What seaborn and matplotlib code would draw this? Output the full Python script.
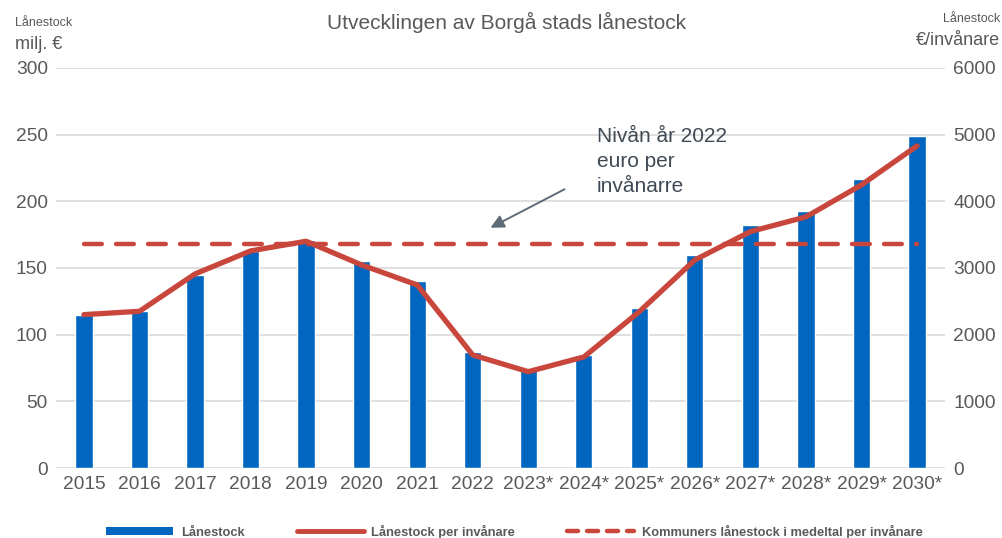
"""
Utvecklingen av Borgå stads lånestock - bars (milj. €) and per capita line (€/invånare)
"""
import numpy as np
import pandas as pd
import matplotlib
matplotlib.use('Agg')
import matplotlib.pyplot as plt
from matplotlib.lines import Line2D
from matplotlib.patches import Patch, FancyArrowPatch
import seaborn as sns

years = ['2015', '2016', '2017', '2018', '2019', '2020', '2021', '2022',
         '2023*', '2024*', '2025*', '2026*', '2027*', '2028*', '2029*', '2030*']
lanestock = [115, 118, 145, 163, 171, 155, 140, 87,
             74, 85, 120, 160, 182, 193, 217, 249]
per_invanare = [2300, 2350, 2910, 3255, 3400, 3045, 2745, 1695,
                1445, 1665, 2345, 3120, 3545, 3765, 4245, 4830]
medeltal = 3360

BLUE = '#0066BF'
RED = '#C8463B'
GRID = '#D9D9D9'
TEXT = '#595959'

sns.set_theme(style='white')
plt.rcParams['font.family'] = ['Liberation Sans', 'DejaVu Sans']

df = pd.DataFrame({'year': years, 'lanestock': lanestock, 'per_inv': per_invanare})
df['pos'] = np.arange(len(years))

fig = plt.figure(figsize=(10.03, 5.38), dpi=100)
ax = fig.add_axes([0.056, 0.130, 0.886, 0.744])

sns.barplot(data=df, x='year', y='lanestock', color=BLUE, width=0.31,
            saturation=1, ax=ax, zorder=2)
ax.set_ylim(0, 300)
ax.set_yticks(range(0, 301, 50))
ax.set_xlim(-0.5, len(years) - 0.5)
ax.grid(axis='y', color=GRID, linewidth=1.2, zorder=0)
ax.set_axisbelow(True)
ax.set_xlabel('')
ax.set_ylabel('')
ax.tick_params(axis='both', length=0, labelsize=13.8, colors=TEXT, pad=6)
for s in ax.spines.values():
    s.set_visible(False)

ax2 = ax.twinx()
sns.lineplot(data=df, x='pos', y='per_inv', color=RED, linewidth=3.8,
             ax=ax2, solid_capstyle='round', zorder=3)
ax2.plot([df['pos'].iloc[0], df['pos'].iloc[-1]], [medeltal, medeltal],
         color=RED, linewidth=3.2, dashes=(4, 3.2), dash_capstyle='round', zorder=3)
ax2.set_ylim(0, 6000)
ax2.set_yticks(range(0, 6001, 1000))
ax2.set_xlim(-0.5, len(years) - 0.5)
ax2.set_xlabel('')
ax2.set_ylabel('')
ax2.tick_params(axis='y', length=0, labelsize=13.8, colors=TEXT, pad=6)
ax2.grid(False)
for s in ax2.spines.values():
    s.set_visible(False)

# titles and axis headers
fig.text(0.505, 0.958, 'Utvecklingen av Borgå stads lånestock', ha='center', va='center',
         fontsize=15, color=TEXT)
fig.text(0.015, 0.958, 'Lånestock', ha='left', va='center', fontsize=9, color=TEXT)
fig.text(0.015, 0.918, 'milj. €', ha='left', va='center', fontsize=13, color=TEXT)
fig.text(0.997, 0.965, 'Lånestock', ha='right', va='center', fontsize=9, color=TEXT)
fig.text(0.997, 0.925, '€/invånare', ha='right', va='center', fontsize=13, color=TEXT)

# annotation
fig.text(0.595, 1 - 127 / 538, 'Nivån år 2022\neuro per\ninvånarre', ha='left', va='top',
         fontsize=15, color='#404A55', linespacing=1.4)
fig.patches.append(FancyArrowPatch(
    (567 / 1003, 1 - 188 / 538), (488 / 1003, 1 - 229 / 538),
    transform=fig.transFigure, arrowstyle='-|>', mutation_scale=20,
    color='#5F6B76', linewidth=1.4))

handles = [Patch(facecolor=BLUE, edgecolor='none'),
           Line2D([], [], color=RED, linewidth=3.5),
           Line2D([], [], color=RED, linewidth=3.2, dashes=(2.5, 2), dash_capstyle='round')]
labels = ['Lånestock', 'Lånestock per invånare', 'Kommuners lånestock i medeltal per invånare']
leg = fig.legend(handles, labels, loc='center', bbox_to_anchor=(0.513, 0.012), ncol=3,
                 frameon=False, handlelength=5.2, columnspacing=4.0, handleheight=0.6,
                 handletextpad=0.6, prop={'size': 9.3, 'weight': 'bold'})
for t in leg.get_texts():
    t.set_color(TEXT)

plt.savefig('out.png', dpi=100)
